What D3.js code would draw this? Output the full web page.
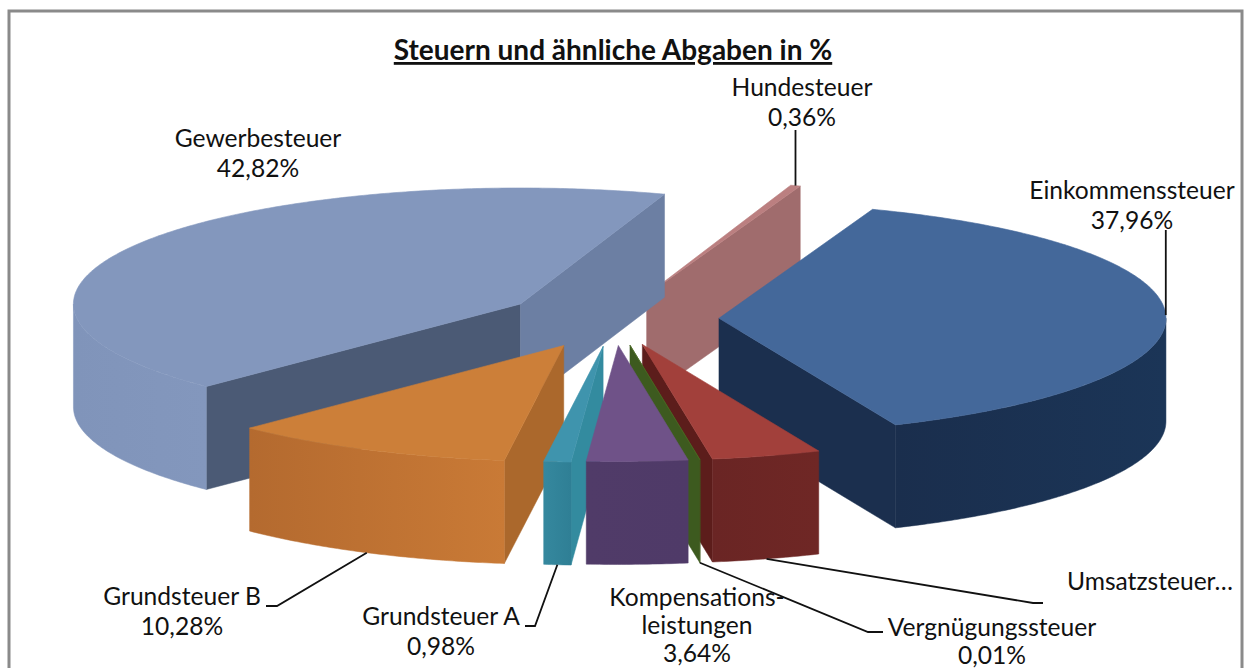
<!DOCTYPE html>
<html lang="de">
<head>
<meta charset="utf-8">
<style>
html,body{margin:0;padding:0;background:#fff;overflow:hidden}
svg{display:block}
text{font-family:Lato,"Open Sans",sans-serif;fill:#111}
</style>
<script src="https://cdnjs.cloudflare.com/ajax/libs/d3/7.8.5/d3.min.js"></script>
</head>
<body>
<svg id="chart" width="1244" height="668"></svg>
<script>
// ---- data ----
const categories = ["Einkommenssteuer","Umsatzsteuer","Vergnügungssteuer","Kompensationsleistungen","Grundsteuer A","Grundsteuer B","Gewerbesteuer","Hundesteuer"];
const shares = [37.96,3.95,0.01,3.64,0.98,10.28,42.82,0.36];
const explosion = [105,102,102,102,106,114,110,98];
const percentLabels = ["37,96%","","0,01%","3,64%","0,98%","10,28%","42,82%","0,36%"];
const titleText = "Steuern und ähnliche Abgaben in %";
const topColors  = ["#44689a","#a2403b","#4a6a22","#6f5288","#3f94ad","#cc7f39","#8397bd","#bb7f80"];
const rimStart   = ["#1b3557","#6f2725","#3f5a1e","#4f3a68","#2f7f95","#c97a36","#8397bd","#a06c6d"];
const rimEnd     = ["#1a2e4d","#6a2524","#3f5a1e","#503b68","#35889e","#b46a2f","#8094ba","#a06c6d"];
const faceStart  = ["#1b2f4e","#5c1d1b","#3d5a1f","#4f3a68","#338b9f","#ab682c","#4b5a75","#a06c6d"];
const faceEnd    = ["#1b2f4e","#5c1d1b","#3d5a1f","#4f3a68","#338b9f","#ab682c","#6c7fa3","#a06c6d"];
const paintOrder = ["Hundesteuer","Gewerbesteuer","Einkommenssteuer","Grundsteuer B","Grundsteuer A","Umsatzsteuer","Vergnügungssteuer","Kompensationsleistungen"];

// ---- layout ----
const W = 1244, H = 668;
const cx = 614, cy = 319, rx = 447, ry = 116, depth = 103;
const firstAngle = 20.1 * Math.PI / 180;
const svg = d3.select("#chart");
const xScale = d3.scaleLinear().domain([-1,1]).range([cx-rx,cx+rx]);
const yScale = d3.scaleLinear().domain([-1,1]).range([cy-ry,cy+ry]);
const pie = d3.pie().sort(null).value(d=>d).startAngle(firstAngle).endAngle(firstAngle+2*Math.PI);
const arcs = pie(shares);

const slices = categories.map((name,i)=>{
  const a = arcs[i], mid = (a.startAngle+a.endAngle)/2, e = explosion[i]/rx;
  const ox = Math.sin(mid)*e, oy = -Math.cos(mid)*e;
  const pt = (ang,r=1)=>[xScale(ox+r*Math.sin(ang)), yScale(oy-r*Math.cos(ang))];
  return {name,i,a0:a.startAngle,a1:a.endAngle,mid,pt};
});
const byName = new Map(slices.map(s=>[s.name,s]));
const line = d3.line();
const samples = (a,b)=>{const n=Math.max(2,Math.ceil((b-a)/0.01));return d3.range(n+1).map(k=>a+(b-a)*k/n);};

const defs = svg.append("defs");
function hGrad(id,c0,c1,x0,x1){
  const g = defs.append("linearGradient").attr("id",id).attr("gradientUnits","userSpaceOnUse")
    .attr("x1",x0).attr("x2",x1).attr("y1",0).attr("y2",0);
  g.append("stop").attr("offset","0").attr("stop-color",c0);
  g.append("stop").attr("offset","1").attr("stop-color",c1);
  return `url(#${id})`;
}

// frame (bottom edge lies past the picture)
svg.append("rect").attr("x",9).attr("y",11).attr("width",1233).attr("height",H)
  .attr("fill","#fff").attr("stroke","#8a8a8a").attr("stroke-width",3);

// slices, back to front
const HALF = Math.PI, Q = Math.PI/2;
paintOrder.forEach(name=>{
  const s = byName.get(name), g = svg.append("g").attr("class","slice").attr("data-name",name);
  const top = s.pt, i = s.i;
  const face = (ang,fill)=>{
    const p = top(ang), o = top(ang,0);
    g.append("path").attr("fill",fill).attr("stroke",fill).attr("stroke-width",0.5)
      .attr("d",line([o,p,[p[0],p[1]+depth],[o[0],o[1]+depth]])+"Z");
  };
  if (Math.sin(s.a0) < 0) face(s.a0,faceStart[i]);
  if (Math.sin(s.a1) > 0) face(s.a1,faceEnd[i]);
  // outer wall: only the front half of the rim shows
  const lo = Math.max(s.a0,Q), hi = Math.min(s.a1,Q+HALF);
  if (hi > lo) {
    const upper = samples(lo,hi).map(a=>top(a));
    const lower = upper.map(p=>[p[0],p[1]+depth]).reverse();
    const xs = d3.extent(upper,p=>p[0]);
    const fill = hGrad("rim"+i,rimEnd[i],rimStart[i],xs[0],xs[1]);
    g.append("path").attr("fill",fill).attr("stroke",fill).attr("stroke-width",0.5)
      .attr("d",line(upper.concat(lower))+"Z");
  }
  // upper surface
  const pts = [top(s.a0,0)].concat(samples(s.a0,s.a1).map(a=>top(a)));
  g.append("path").attr("fill",topColors[i]).attr("stroke",topColors[i]).attr("stroke-width",0.6)
    .attr("d",line(pts)+"Z");
});

// leader lines: they start on the rim at each slice's mid angle
const rimAnchor = name=>{
  const s = byName.get(name);
  const p = s.pt(s.mid);
  return Math.cos(s.mid) < 0 ? [p[0],p[1]+depth] : p;
};
const leaderBends = [
  ["Grundsteuer B",[[277,606],[266,606]]],
  ["Grundsteuer A",[[535,626],[525,626]]],
  ["Vergnügungssteuer",[[868,632],[883,632]]],
  ["Umsatzsteuer",[[1033,603],[1043,603]]],
  ["Einkommenssteuer",[[null,230]]],
  ["Hundesteuer",[[null,130]]]
];
leaderBends.forEach(([name,bends])=>{
  const st = rimAnchor(name);
  const path = [st].concat(bends.map(b=>[b[0]===null?st[0]:b[0],b[1]]));
  svg.append("path").attr("fill","none").attr("stroke","#111").attr("stroke-width",1.8)
    .attr("d",line(path));
});

// labels
const labelSpots = [
  ["Einkommenssteuer",1132,199,30,["Einkommenssteuer"]],
  ["Umsatzsteuer",1150,590,30,["Umsatzsteuer…"]],
  ["Vergnügungssteuer",992,636,28,["Vergnügungssteuer"]],
  ["Kompensationsleistungen",697,606,28,["Kompensations-","leistungen"]],
  ["Grundsteuer A",441,625,30,["Grundsteuer A"]],
  ["Grundsteuer B",182,605,30,["Grundsteuer B"]],
  ["Gewerbesteuer",258,147,30,["Gewerbesteuer"]],
  ["Hundesteuer",802,96,30,["Hundesteuer"]]
];
labelSpots.forEach(([name,x,y,gap,lines])=>{
  const pct = percentLabels[categories.indexOf(name)];
  const t = svg.append("text").attr("text-anchor","middle").attr("font-size",24.6);
  lines.concat(pct?[pct]:[]).forEach((l,k)=>{
    t.append("tspan").attr("x",x).attr("y",y+k*gap).text(l);
  });
});

svg.append("text").attr("x",613).attr("y",60).attr("text-anchor","middle")
  .attr("font-size",28).attr("font-weight",700)
  .attr("text-decoration","underline").text(titleText);
</script>
</body>
</html>
